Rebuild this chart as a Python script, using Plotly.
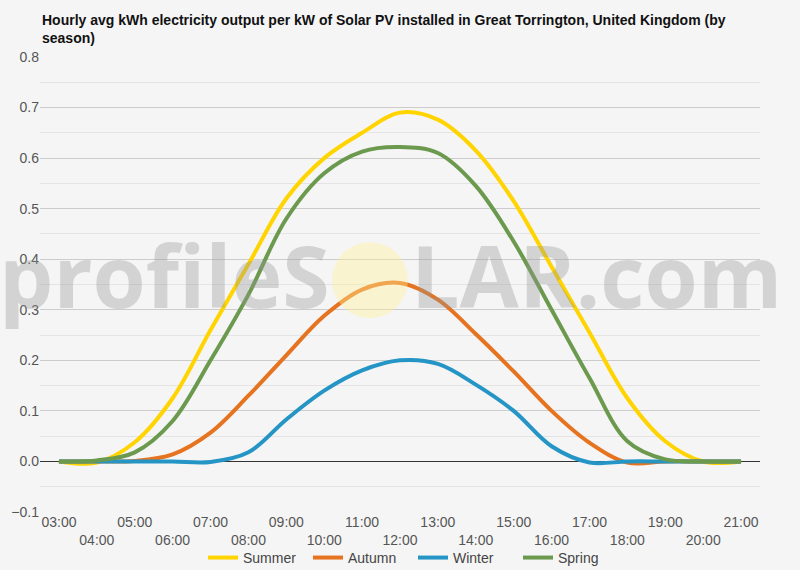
import plotly.graph_objects as go

hours = ["03:00", "04:00", "05:00", "06:00", "07:00", "08:00", "09:00", "10:00", "11:00",
         "12:00", "13:00", "14:00", "15:00", "16:00", "17:00", "18:00", "19:00", "20:00", "21:00"]

summer = [0.0, -0.002, 0.038, 0.125, 0.26, 0.39, 0.52, 0.60, 0.65, 0.69, 0.676, 0.615, 0.515,
          0.385, 0.255, 0.125, 0.04, 0.0, 0.0]
autumn = [0.0, 0.0, 0.001, 0.014, 0.057, 0.13, 0.21, 0.288, 0.34, 0.353, 0.32, 0.252, 0.178,
          0.10, 0.037, -0.002, 0.0, 0.0, 0.0]
winter = [0.0, 0.0, 0.0, 0.0, -0.001, 0.018, 0.083, 0.14, 0.18, 0.2, 0.193, 0.152, 0.1,
          0.03, -0.002, 0.0, 0.0, 0.0, 0.0]
spring = [0.0, 0.002, 0.018, 0.08, 0.2, 0.33, 0.48, 0.57, 0.613, 0.622, 0.61, 0.545, 0.435,
          0.30, 0.165, 0.04, 0.004, 0.0, 0.0]

series = [
    ("Summer", summer, "#FFD400"),
    ("Autumn", autumn, "#E6731F"),
    ("Winter", winter, "#2595C6"),
    ("Spring", spring, "#6B9A4E"),
]

title_text = ("Hourly avg kWh electricity output per kW of Solar PV installed in Great Torrington, "
              "United Kingdom (by<br>season)")

tick_text = [h if i % 2 == 0 else "<br>" + h for i, h in enumerate(hours)]

fig = go.Figure()
for name, vals, color in series:
    fig.add_trace(go.Scatter(
        x=hours, y=vals, name=name, mode="lines",
        line=dict(color=color, width=4, shape="spline", smoothing=1),
    ))

bg = "#f5f5f5"
fig.update_layout(
    width=800, height=570,
    paper_bgcolor=bg, plot_bgcolor=bg,
    margin=dict(l=40, r=40, t=57, b=58, autoexpand=False),
    font=dict(family="Liberation Sans, Arial, sans-serif", size=14, color="#555"),
    showlegend=True,
    legend=dict(orientation="h", x=(203 - 40) / 720, xanchor="left", y=-0.101, yanchor="middle",
                itemwidth=30, tracegroupgap=0, entrywidth=60, entrywidthmode="pixels",
                font=dict(size=14, color="#444"), bgcolor="rgba(0,0,0,0)"),
    xaxis=dict(
        type="category", range=[-0.5, 18.5], automargin=False,
        tickmode="array", tickvals=hours, ticktext=tick_text,
        showgrid=False, zeroline=False, showline=False, ticks="",
        tickfont=dict(size=14, color="#555"),
    ),
    yaxis=dict(
        range=[-0.1, 0.8], dtick=0.1, tick0=0, tickformat=".1f", automargin=False,
        showgrid=True, gridcolor="#cccccc", gridwidth=1,
        zeroline=True, zerolinecolor="#333333", zerolinewidth=1,
        minor=dict(dtick=0.05, showgrid=True, gridcolor="#e4e4e4", gridwidth=1),
        tickfont=dict(size=14, color="#555"), ticks="",
    ),
)

# title as annotation (left aligned, two lines)
fig.add_annotation(text="<b>" + title_text + "</b>", xref="paper", yref="paper",
                   x=0.0, y=1 + 47 / 455, xanchor="left", yanchor="top", align="left",
                   showarrow=False,
                   font=dict(family="Liberation Sans, Arial, sans-serif", size=14, color="#111"))

# watermark
fig.add_shape(type="circle", xref="paper", yref="paper",
              x0=0.4056, x1=0.511, y0=0.426, y1=0.593,
              fillcolor="rgba(255,240,150,0.40)", line=dict(width=0), layer="above")
wm_font = dict(family="Open Sans, Liberation Sans, sans-serif", size=86,
               color="rgba(150,150,150,0.35)", weight=700)
fig.add_annotation(text="profileS", xref="paper", yref="paper", x=0.406, y=0.522,
                   xanchor="right", yanchor="middle", showarrow=False, font=wm_font)
fig.add_annotation(text="LAR.com", xref="paper", yref="paper", x=0.5125, y=0.522,
                   xanchor="left", yanchor="middle", showarrow=False, font=wm_font)

fig.write_html("out.html")
